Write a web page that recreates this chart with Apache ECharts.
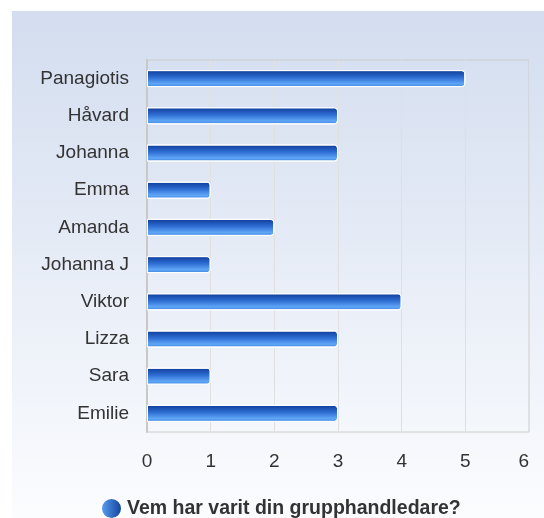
<!DOCTYPE html>
<html>
<head>
<meta charset="utf-8">
<script src="https://cdn.jsdelivr.net/npm/echarts@6/dist/echarts.min.js"></script>
<style>
  html, body { margin: 0; padding: 0; background: #fff; }
  #chart { width: 544px; height: 518px; }
</style>
</head>
<body>
<div id="chart"></div>
<script>
// data
const names = ['Panagiotis', 'Håvard', 'Johanna', 'Emma', 'Amanda', 'Johanna J', 'Viktor', 'Lizza', 'Sara', 'Emilie']
const counts = [5, 3, 3, 1, 2, 1, 4, 3, 1, 3]
const seriesName = 'Vem har varit din grupphandledare?'
const xTicks = [0, 6, 1]

const chart = echarts.init(document.getElementById('chart'))

const barColor = new echarts.graphic.LinearGradient(0, 0, 0, 1, [
  { offset: 0, color: '#0d3a98' },
  { offset: 0.45, color: '#2f6fd4' },
  { offset: 0.8, color: '#5fa6f6' },
  { offset: 1, color: '#3f84e0' },
])

chart.setOption({
  backgroundColor: '#fff',
  textStyle: { fontFamily: 'Liberation Sans, Arial, sans-serif' },
  graphic: [
    {
      type: 'rect',
      z: -10,
      shape: { x: 12, y: 11, width: 532, height: 507 },
      style: {
        fill: new echarts.graphic.LinearGradient(0, 0, 0, 1, [
          { offset: 0, color: '#d3ddef' },
          { offset: 1, color: '#fbfcfe' },
        ]),
      },
    },
  ],
  grid: {
    left: 147,
    right: 15,
    top: 60,
    bottom: 86,
    show: true,
    borderColor: '#cccccc',
    borderWidth: 1,
    backgroundColor: 'transparent',
  },
  legend: {
    left: 100,
    bottom: -2,
    padding: 0,
    icon: 'circle',
    itemWidth: 21,
    itemHeight: 21,
    textStyle: { fontSize: 19.5, fontWeight: 'bold', color: '#333' },
    data: [
      {
        name: seriesName,
        itemStyle: {
          color: new echarts.graphic.LinearGradient(0, 0, 1, 0, [
            { offset: 0, color: '#5fa6f6' },
            { offset: 1, color: '#0d3a98' },
          ]),
        },
      },
    ],
  },
  xAxis: {
    type: 'value',
    min: xTicks[0],
    max: xTicks[1],
    interval: xTicks[2],
    axisLine: { show: false },
    axisTick: { show: false },
    axisLabel: { fontSize: 19, color: '#333', margin: 20, alignMaxLabel: 'right' },
    splitLine: { lineStyle: { color: '#e0e0e0' } },
  },
  yAxis: {
    type: 'category',
    inverse: true,
    data: names,
    axisLine: { show: true, lineStyle: { color: '#c8c8c8', width: 2 } },
    axisTick: { show: false },
    axisLabel: { fontSize: 19, color: '#333', margin: 18 },
  },
  series: [
    {
      name: seriesName,
      type: 'bar',
      data: counts,
      barWidth: 17,
      itemStyle: {
        color: barColor,
        borderColor: '#ffffff',
        borderWidth: 1,
        borderRadius: [0, 3, 3, 0],
      },
    },
  ],
})
</script>
</body>
</html>
